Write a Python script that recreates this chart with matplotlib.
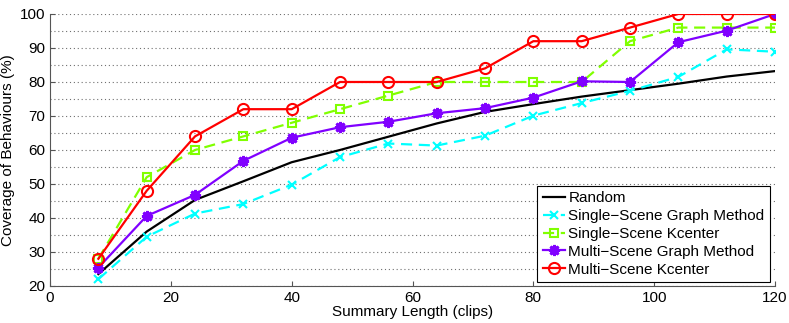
import numpy as np
import matplotlib
matplotlib.use('Agg')
import matplotlib.pyplot as plt
from matplotlib.ticker import MultipleLocator

plt.rcParams['font.family'] = ['Liberation Sans', 'DejaVu Sans']

# summary lengths (clips)
x = [8, 16, 24, 32, 40, 48, 56, 64, 72, 80, 88, 96, 104, 112, 120]

# coverage of behaviours (%)
random_cov = [23.5, 36, 45.3, 50.8, 56.4, 60, 63.9, 67.8, 71.2, 73.5, 75.7, 77.6, 79.5, 81.6, 83.2]
ss_graph = [22, 34.5, 41.3, 44.1, 49.8, 57.9, 61.9, 61.3, 64.2, 70.1, 73.8, 77.4, 81.5, 89.6, 88.9]
ss_kcenter = [28, 52, 60, 64, 68, 72, 76, 80, 80, 80, 80, 92, 96, 96, 96]
ms_graph = [25.4, 40.6, 46.8, 56.8, 63.6, 66.7, 68.3, 70.8, 72.3, 75.4, 80.2, 80, 91.7, 95.1, 100]
ms_kcenter = [28, 48, 64, 72, 72, 80, 80, 80, 84, 92, 92, 96, 100, 100, 100]

fig = plt.figure(figsize=(7.89, 3.23), dpi=100)
ax = fig.add_axes([0.0634, 0.1146, 0.9189, 0.8421])

ax.plot(x, random_cov, color='black', lw=1.6, label='Random')
ax.plot(x, ss_graph, color='#00FFFF', lw=1.6, ls=(0, (5, 3)), marker='x', ms=6, mew=1.5,
        label='Single\u2212Scene Graph Method')
ax.plot(x, ss_kcenter, color='#80FF00', lw=1.6, ls=(0, (5, 3)), marker='s', ms=6, mew=1.5,
        mfc='none', label='Single\u2212Scene Kcenter')
ax.plot(x, ms_graph, color='#8000FF', lw=1.6, marker=(8, 2, 0), ms=8, mew=2,
        label='Multi\u2212Scene Graph Method')
ax.plot(x, ms_kcenter, color='#FF0000', lw=1.6, marker='o', ms=8, mew=1.5, mfc='none',
        label='Multi\u2212Scene Kcenter')

ax.set_xlim(0, 120)
ax.set_ylim(20, 100)
ax.xaxis.set_major_locator(MultipleLocator(20))
ax.yaxis.set_major_locator(MultipleLocator(10))
ax.yaxis.set_minor_locator(MultipleLocator(5))
ax.grid(axis='y', which='both', ls=(0, (1, 2.5)), color='#707070', lw=0.8)
ax.tick_params(which='both', direction='in', labelsize=11, color='#555555')
ax.tick_params(which='minor', length=0)
ax.spines['top'].set_visible(False)
ax.spines['right'].set_visible(False)
ax.spines['left'].set_color('#555555')
ax.spines['bottom'].set_color('#555555')

ax.set_xlabel('Summary Length (clips)', fontsize=11, labelpad=0)
ax.set_ylabel('Coverage of Behaviours (%)', fontsize=11, labelpad=3)

leg = ax.legend(loc='lower right', bbox_to_anchor=(0.993, 0.015), borderaxespad=0,
                fontsize=11, fancybox=False, framealpha=1, edgecolor='black',
                handlelength=1.5, handletextpad=0.2, labelspacing=0.25, borderpad=0.35)
leg.get_frame().set_linewidth(0.8)

fig.savefig('out.png', dpi=100)
